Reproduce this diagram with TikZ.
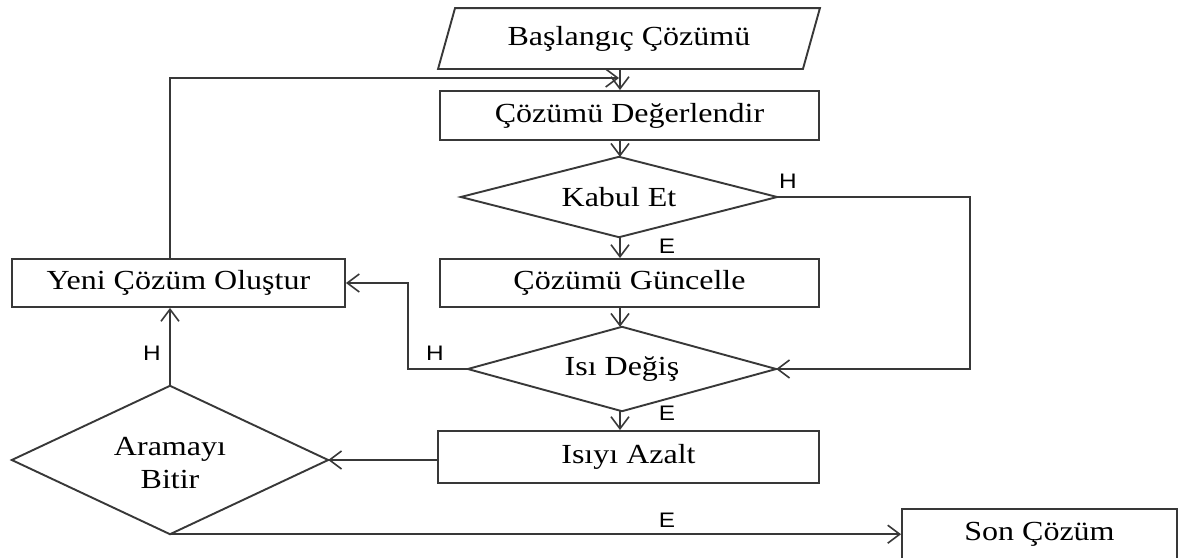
\documentclass[tikz,border=0pt]{standalone}
\usepackage{fontspec}
\setmainfont{Liberation Serif}
\newfontfamily\boxfont[FakeStretch=1.16]{Liberation Serif}
\newfontfamily\tagfont[FakeStretch=1.16]{Liberation Sans}
\usetikzlibrary{arrows.meta}
\begin{document}
\begin{tikzpicture}[x=1pt,y=-1pt,
  line/.style={draw=black!78,line width=1.9pt},
  flow/.style={line,-{Straight Barb[length=12pt,width=18pt,line width=1.6pt]}},
  boxtext/.style={font=\boxfont\fontsize{27.6}{33}\selectfont,text=black},
  box/.style={line,rectangle,inner sep=0pt,boxtext},
  decide/.style={rectangle,inner sep=0pt,align=center,boxtext},
  tag/.style={font=\tagfont\fontsize{21}{24}\selectfont,text=black,inner sep=0pt}]
\clip (0,0) rectangle (1178,557);
\fill[white] (0,0) rectangle (1178,557);

% input parallelogram
\node[box,draw=none,minimum width=363pt,minimum height=59pt] (start) at (629,38.5) {Başlangıç Çözümü};
\draw[line] ([xshift=-8.5pt]start.south west) -- ([xshift=8.5pt]start.north west)
  -- ([xshift=8.5pt]start.north east) -- ([xshift=-8.5pt]start.south east) -- cycle;

% process boxes
\node[box,minimum width=379pt,minimum height=49pt] (eval) at (629.5,115.5) {Çözümü Değerlendir};
\node[box,minimum width=379pt,minimum height=48pt] (guncelle) at (629.5,283) {Çözümü Güncelle};
\node[box,minimum width=381pt,minimum height=52pt] (azalt) at (628.5,457) {Isıyı Azalt};
\node[box,minimum width=333pt,minimum height=48pt] (yeni) at (178.5,283) {Yeni Çözüm Oluştur};
\node[box,minimum width=275pt,minimum height=50pt] (son) at (1039.5,534) {Son Çözüm};

% decisions: text nodes framed by a rhombus through their side midpoints
\node[decide,minimum width=316pt,minimum height=80pt] (kabul) at (619,197) {Kabul Et};
\node[decide,minimum width=308pt,minimum height=84pt] (isi) at (622,369) {Isı Değiş};
\node[decide,minimum width=316pt,minimum height=148pt] (aramayi) at (170,460)
  {\raisebox{-5pt}[\height][\depth]{\begin{tabular}{@{}c@{}}Aramayı\\Bitir\end{tabular}}};
\foreach \d in {kabul,isi,aramayi}
  \draw[line,line join=miter] (\d.north) -- (\d.east) -- (\d.south) -- (\d.west) -- cycle;

% branch labels
\node[tag] (hk) at (788,181) {H};
\node[tag] (ek) at (667,246) {E};
\node[tag] (hi) at (435,353) {H};
\node[tag] (ei) at (667,413) {E};
\node[tag] (ha) at (152,353) {H};
\node[tag] (ea) at (667,520) {E};

% routing helpers
\coordinate (spine) at (620,0);
\coordinate (join) at (619,78);
\coordinate (kcol) at (970,0);
\coordinate (icol) at (408,0);

% connectors
\draw[flow] (start.south -| spine) -- (eval.north -| spine);
\draw[flow] (yeni.north -| aramayi.north) |- (join);
\draw[flow] (eval.south -| spine) -- (kabul.north -| spine);
\draw[flow] (kabul.east) -| (kcol |- isi.east) -- (isi.east);
\draw[flow] (kabul.south -| spine) -- (guncelle.north -| spine);
\draw[flow] (guncelle.south -| spine) -- (isi.north -| spine);
\draw[flow] (isi.west) -| (icol |- yeni.east) -- (yeni.east);
\draw[flow] (isi.south -| spine) -- (azalt.north -| spine);
\draw[flow] (azalt.west |- aramayi.east) -- (aramayi.east);
\draw[flow] (aramayi.north) -- (yeni.south -| aramayi.north);
\draw[flow] (aramayi.south) -- (son.west |- aramayi.south);
\end{tikzpicture}
\end{document}
